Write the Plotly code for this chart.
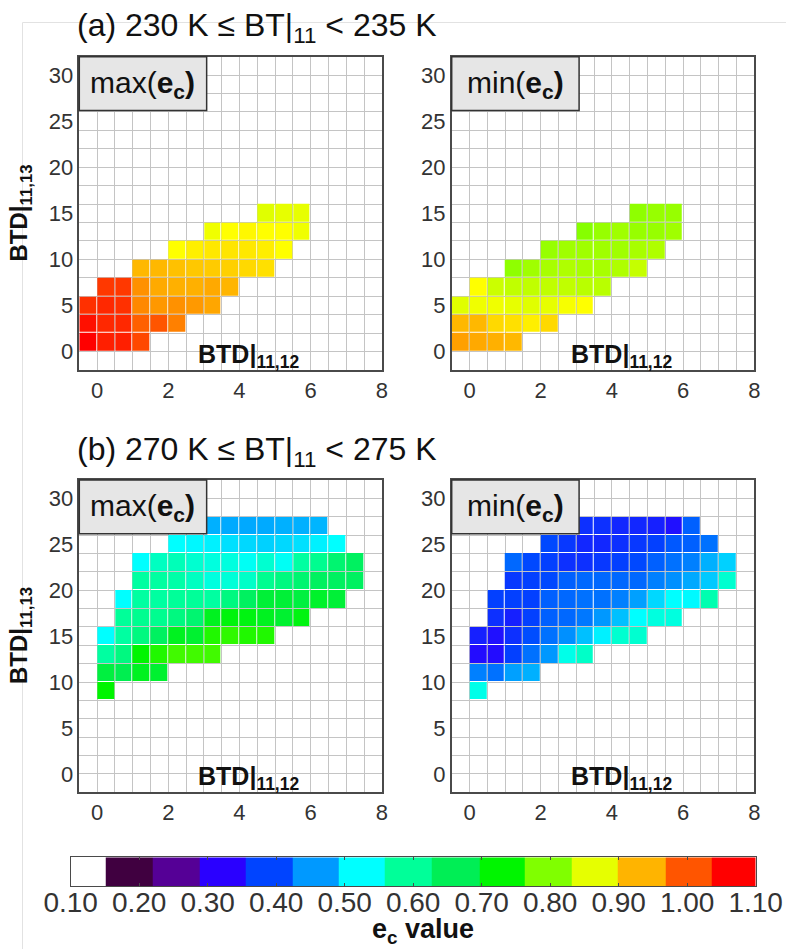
import plotly.graph_objects as go

FONT = "Liberation Sans, Arial, Helvetica, sans-serif"
W, H = 786, 949

# ---------------- data ----------------
x_bins = [-0.25, 0.25, 0.75, 1.25, 1.75, 2.25, 2.75, 3.25, 3.75,
          4.25, 4.75, 5.25, 5.75, 6.25, 6.75, 7.25, 7.75]
y_bins = [-1, 1, 3, 5, 7, 9, 11, 13, 15, 17, 19, 21, 23, 25, 27, 29, 31]
x_ticks = [0, 2, 4, 6, 8]
y_ticks = [0, 5, 10, 15, 20, 25, 30]

# (a) 230 K <= BT11 < 235 K : rows (BTD11,13 centre), first BTD11,12 centre, values
a_rows_y = [1, 3, 5, 7, 9, 11, 13, 15]
a_start = [-0.25, -0.25, -0.25, 0.25, 1.25, 2.25, 3.25, 4.75]
a_max_vals = [
    [1.067, 1.042, 1.042, 1.01],
    [1.054, 1.035, 1.035, 0.992, 1.0, 0.97],
    [1.029, 1.035, 1.029, 0.964, 0.953, 0.958, 0.952, 0.943],
    [1.023, 1.023, 0.958, 0.94, 0.936, 0.936, 0.941, 0.933],
    [0.931, 0.931, 0.926, 0.922, 0.92, 0.917, 0.912, 0.908],
    [0.89, 0.899, 0.903, 0.905, 0.903, 0.9, 0.89],
    [0.876, 0.89, 0.894, 0.89, 0.89, 0.876],
    [0.863, 0.868, 0.868],
]
a_min_vals = [
    [0.947, 0.941, 0.936, 0.931],
    [0.931, 0.931, 0.912, 0.908, 0.899, 0.912],
    [0.863, 0.876, 0.876, 0.868, 0.863, 0.868, 0.883, 0.89],
    [0.89, 0.849, 0.842, 0.842, 0.842, 0.842, 0.837, 0.837],
    [0.81, 0.821, 0.826, 0.831, 0.826, 0.826, 0.831, 0.845],
    [0.815, 0.821, 0.821, 0.821, 0.821, 0.826, 0.831],
    [0.804, 0.815, 0.821, 0.815, 0.815, 0.821],
    [0.81, 0.815, 0.815],
]

# (b) 270 K <= BT11 < 275 K
b_rows_y = [9, 11, 13, 15, 17, 19, 21, 23, 25, 27]
b_start = [0.25, 0.25, 0.25, 0.25, 0.75, 0.75, 1.25, 1.25, 2.25, 2.75]
b_max_vals = [
    [0.733],
    [0.683, 0.671, 0.708, 0.696],
    [0.595, 0.625, 0.733, 0.75, 0.767, 0.767, 0.767],
    [0.533, 0.595, 0.625, 0.656, 0.708, 0.696, 0.75, 0.758, 0.75, 0.75],
    [0.6, 0.609, 0.609, 0.625, 0.64, 0.708, 0.725, 0.72, 0.708, 0.696, 0.72],
    [0.533, 0.595, 0.595, 0.6, 0.6, 0.595, 0.625, 0.656, 0.69, 0.69, 0.683, 0.70, 0.69],
    [0.595, 0.595, 0.59, 0.574, 0.554, 0.559, 0.569, 0.609, 0.625, 0.64, 0.656, 0.656, 0.656],
    [0.533, 0.574, 0.58, 0.564, 0.554, 0.554, 0.54, 0.564, 0.54, 0.595, 0.609, 0.64, 0.656],
    [0.533, 0.529, 0.524, 0.513, 0.508, 0.503, 0.508, 0.513, 0.524, 0.533],
    [0.482, 0.482, 0.478, 0.477, 0.478, 0.482, 0.482, 0.485],
]
b_min_vals = [
    [0.548],
    [0.447, 0.435, 0.471, 0.482],
    [0.345, 0.345, 0.396, 0.435, 0.466, 0.548, 0.569],
    [0.365, 0.349, 0.38, 0.407, 0.435, 0.46, 0.492, 0.524, 0.564, 0.564],
    [0.38, 0.365, 0.396, 0.422, 0.428, 0.441, 0.466, 0.492, 0.533, 0.554, 0.554],
    [0.396, 0.396, 0.396, 0.422, 0.428, 0.435, 0.435, 0.447, 0.471, 0.508, 0.533, 0.53, 0.585],
    [0.388, 0.396, 0.403, 0.422, 0.428, 0.428, 0.428, 0.428, 0.447, 0.46, 0.477, 0.498, 0.564],
    [0.428, 0.403, 0.396, 0.38, 0.38, 0.388, 0.396, 0.403, 0.422, 0.435, 0.447, 0.482, 0.503],
    [0.403, 0.388, 0.372, 0.372, 0.38, 0.388, 0.396, 0.416, 0.422, 0.435],
    [0.38, 0.38, 0.38, 0.372, 0.372, 0.365, 0.349, 0.422],
]

# colour scale (e_c value -> colour)
cs_vals = [0.1, 0.1333, 0.2, 0.2667, 0.3333, 0.4, 0.4667, 0.5333, 0.6, 0.6667,
           0.7333, 0.8, 0.8667, 0.89, 0.9333, 1.0, 1.0667, 1.1]
cs_colors = ['#ffffff', '#ffffff', '#400040', '#550096', '#2a00ff', '#0044ff',
             '#0099ff', '#00ffff', '#00ff99', '#00ee55', '#00f500', '#80ff00',
             '#e6ff00', '#ffff00', '#ffb400', '#ff5500', '#ff0000', '#ff0000']
ZMIN, ZMAX = 0.1, 1.1

# label bar
cb_colors = ['#ffffff', '#400040', '#550096', '#2a00ff', '#0044ff', '#0099ff',
             '#00ffff', '#00ff99', '#00ee55', '#00f500', '#80ff00', '#e6ff00',
             '#ffb400', '#ff5500', '#ff0000']
cb_edges = [0.10, 0.151, 0.22, 0.288, 0.356, 0.424, 0.491, 0.559, 0.627,
            0.697, 0.763, 0.832, 0.899, 0.969, 1.036, 1.10]
cb_ticks = [0.1, 0.2, 0.3, 0.4, 0.5, 0.6, 0.7, 0.8, 0.9, 1.0, 1.1]


def build(rows_y, starts, vals):
    z = [[None] * len(x_bins) for _ in y_bins]
    for yc, xs, row in zip(rows_y, starts, vals):
        iy = y_bins.index(yc)
        ix0 = x_bins.index(xs)
        for k, v in enumerate(row):
            z[iy][ix0 + k] = v
    return z


colorscale = [[(v - ZMIN) / (ZMAX - ZMIN), c] for v, c in zip(cs_vals, cs_colors)]

panels = [
    (build(a_rows_y, a_start, a_max_vals), 'x', 'y'),
    (build(a_rows_y, a_start, a_min_vals), 'x2', 'y2'),
    (build(b_rows_y, b_start, b_max_vals), 'x3', 'y3'),
    (build(b_rows_y, b_start, b_min_vals), 'x4', 'y4'),
]

fig = go.Figure()
for z, xa, ya in panels:
    fig.add_trace(go.Heatmap(
        x=x_bins, y=y_bins, z=z, xaxis=xa, yaxis=ya,
        colorscale=colorscale, zmin=ZMIN, zmax=ZMAX, showscale=False,
        xgap=1, ygap=1, hoverongaps=False))

fig.add_trace(go.Heatmap(
    x=cb_edges, y=[0, 1], z=[list(range(len(cb_colors)))], xaxis='x5', yaxis='y5',
    colorscale=[[k / (len(cb_colors) - 1), c] for k, c in enumerate(cb_colors)],
    zmin=0, zmax=len(cb_colors) - 1, showscale=False))


def px_x(p):
    return p / W


def px_y(p):
    return 1 - p / H


GRID = '#c4c4c4'
FRAME = '#4a4a4a'
TICKFONT = dict(family=FONT, size=22, color='#333333')

xdom_l = [px_x(79.3), px_x(381.8)]
xdom_r = [px_x(451.7), px_x(754.3)]
ydom_a = [px_y(370), px_y(56.7)]
ydom_b = [px_y(792.3), px_y(480)]


def xaxis(dom, anchor):
    return dict(domain=dom, anchor=anchor, range=[-0.5, 8], tickmode='array',
                tickvals=x_ticks, ticks='', showgrid=False, zeroline=False,
                showline=True, mirror=True, linecolor=FRAME, linewidth=1.5,
                tickfont=TICKFONT, automargin=False,
                minor=dict(dtick=0.5, tick0=0, showgrid=True, gridcolor=GRID,
                           gridwidth=1, ticks=''))


def yaxis(dom, anchor):
    return dict(domain=dom, anchor=anchor, range=[-2, 32], tickmode='array',
                tickvals=y_ticks, ticks='', showgrid=False, zeroline=False,
                showline=True, mirror=True, linecolor=FRAME, linewidth=1.5,
                tickfont=TICKFONT, automargin=False,
                minor=dict(dtick=2, tick0=0, showgrid=True, gridcolor=GRID,
                           gridwidth=1, ticks=''))


layout = dict(
    width=W, height=H, margin=dict(l=0, r=0, t=0, b=0, pad=0), autosize=False,
    paper_bgcolor='white', plot_bgcolor='white', showlegend=False,
    font=dict(family=FONT, color='#111111'),
    xaxis=xaxis(xdom_l, 'y'), yaxis=yaxis(ydom_a, 'x'),
    xaxis2=xaxis(xdom_r, 'y2'), yaxis2=yaxis(ydom_a, 'x2'),
    xaxis3=xaxis(xdom_l, 'y3'), yaxis3=yaxis(ydom_b, 'x3'),
    xaxis4=xaxis(xdom_r, 'y4'), yaxis4=yaxis(ydom_b, 'x4'),
    xaxis5=dict(domain=[px_x(70.7), px_x(755.7)], anchor='y5', range=[0.1, 1.1],
                tickmode='array', tickvals=cb_ticks,
                ticktext=['%.2f' % t for t in cb_ticks],
                ticks='inside', ticklen=3, tickcolor=FRAME,
                ticklabelstandoff=-9,
                showgrid=False, zeroline=False, showline=True, mirror='ticks',
                linecolor=FRAME, linewidth=1.2, automargin=False,
                tickfont=dict(family=FONT, size=28, color='#333333')),
    yaxis5=dict(domain=[px_y(886), px_y(857.3)], anchor='x5', range=[0, 1],
                showticklabels=False, ticks='', showgrid=False, zeroline=False,
                showline=True, mirror=True, linecolor=FRAME, linewidth=1.2,
                automargin=False),
)
fig.update_layout(**layout)

shapes = [
    # faint page border
    dict(type='line', xref='paper', yref='paper', x0=px_x(22.5), x1=px_x(22.5),
         y0=px_y(22.5), y1=0, line=dict(color='#e2e2e2', width=1), layer='below'),
    dict(type='line', xref='paper', yref='paper', x0=px_x(22.5), x1=1,
         y0=px_y(22.5), y1=px_y(22.5), line=dict(color='#e2e2e2', width=1), layer='below'),
]
annotations = []

labels = ['max', 'min', 'max', 'min']
axes_ids = [('x', 'y'), ('x2', 'y2'), ('x3', 'y3'), ('x4', 'y4')]
for lab, (xa, ya) in zip(labels, axes_ids):
    shapes.append(dict(type='rect', xref=xa + ' domain', yref=ya + ' domain',
                       x0=0, x1=0.421, y0=0.828, y1=1,
                       fillcolor='#e6e6e6', line=dict(color='#333333', width=1.5)))
    annotations.append(dict(xref=xa + ' domain', yref=ya + ' domain', x=0.21, y=0.912,
                            xanchor='center', yanchor='middle', showarrow=False,
                            text=lab + '(<b>e<sub>c</sub>)</b>',
                            font=dict(family=FONT, size=30, color='#111111')))
    annotations.append(dict(xref=xa + ' domain', yref=ya + ' domain', x=0.56, y=0.045,
                            xanchor='center', yanchor='middle', showarrow=False,
                            text='<b>BTD|<sub>11,12</sub></b>',
                            font=dict(family=FONT, size=25, color='#111111')))

# y-axis titles
for yc in [213.5, 636]:
    annotations.append(dict(xref='paper', yref='paper', x=px_x(20), y=px_y(yc),
                            xanchor='center', yanchor='middle', showarrow=False,
                            textangle=-90, text='<b>BTD|<sub>11,13</sub></b>',
                            font=dict(family=FONT, size=24, color='#111111')))

# row titles
titles = [('(a) 230 K ≤ BT|<sub>11</sub> < 235 K', 28),
          ('(b) 270 K ≤ BT|<sub>11</sub> < 275 K', 452)]
for txt, yc in titles:
    annotations.append(dict(xref='paper', yref='paper', x=px_x(75), y=px_y(yc),
                            xanchor='left', yanchor='middle', showarrow=False,
                            text=txt, font=dict(family=FONT, size=32, color='#111111')))

# label bar title
annotations.append(dict(xref='paper', yref='paper', x=px_x(423), y=px_y(931),
                        xanchor='center', yanchor='middle', showarrow=False,
                        text='<b>e<sub>c</sub> value</b>',
                        font=dict(family=FONT, size=27, color='#111111')))

fig.update_layout(shapes=shapes, annotations=annotations)
fig.write_html('out.html')
